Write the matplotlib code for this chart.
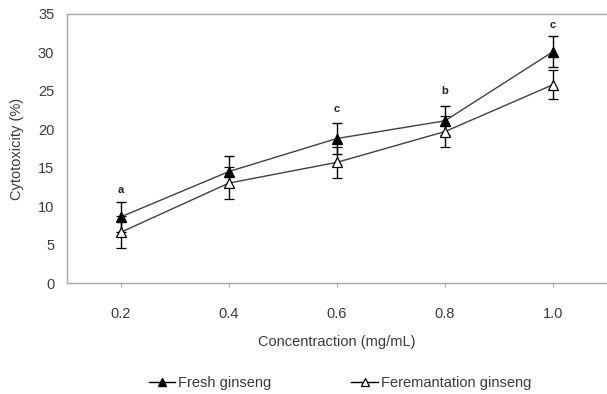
import numpy as np
import matplotlib.pyplot as plt
from matplotlib.lines import Line2D

plt.rcParams['font.family'] = ['Liberation Sans', 'DejaVu Sans']

# data
conc = [0.2, 0.4, 0.6, 0.8, 1.0]
conc_labels = ['0.2', '0.4', '0.6', '0.8', '1.0']
fresh = [8.6, 14.5, 18.8, 21.1, 30.1]
fresh_err = [1.9, 2.0, 2.0, 1.9, 2.0]
ferm = [6.6, 13.0, 15.7, 19.7, 25.8]
ferm_err = [2.1, 2.1, 2.0, 2.0, 1.9]
sig_letters = ['a', '', 'c', 'b', 'c']
sig_y = [12.1, 0, 22.7, 25.0, 33.6]

txt = '#3a3a3a'
spine_col = '#a6a6a6'

fig = plt.figure(figsize=(6.07, 3.94), dpi=100)
ax = fig.add_axes([0.110, 0.2817, 0.890, 0.6828])

ax.errorbar(conc, fresh, yerr=fresh_err, color='#404040', lw=1.0,
            marker='^', ms=7, mfc='black', mec='black',
            ecolor='black', elinewidth=1.0, capsize=3.5, capthick=1.0,
            zorder=3)
ax.errorbar(conc, ferm, yerr=ferm_err, color='#404040', lw=1.0,
            marker='^', ms=7, mfc='white', mec='black', mew=0.9,
            ecolor='black', elinewidth=1.0, capsize=3.5, capthick=1.0,
            zorder=3)

for x, lab, y in zip(conc, sig_letters, sig_y):
    if lab:
        ax.text(x, y, lab, ha='center', va='center', fontsize=8,
                fontweight='bold', color='#222222')

ax.set_xlim(0.1, 1.1)
ax.set_ylim(0, 35)
ax.set_yticks(np.arange(0, 36, 5))
ax.set_xticks(conc)
ax.set_xticklabels(conc_labels)

for side in ['left', 'bottom', 'top']:
    ax.spines[side].set_color(spine_col)
    ax.spines[side].set_linewidth(1.0)
ax.spines['right'].set_visible(False)

ax.tick_params(axis='x', direction='out', length=3, color=spine_col,
               labelsize=10.5, labelcolor=txt, pad=14)
ax.tick_params(axis='y', length=0, labelsize=10.5, labelcolor=txt, pad=9)

ax.set_xlabel('Concentraction (mg/mL)', fontsize=10.5, color=txt, labelpad=10)
ax.set_ylabel('Cytotoxicity (%)', fontsize=10.5, color=txt, labelpad=10)

handles = [
    Line2D([], [], color='black', lw=1.0, marker='^', ms=6,
           mfc='black', mec='black'),
    Line2D([], [], color='black', lw=1.0, marker='^', ms=6,
           mfc='white', mec='black', mew=0.9),
]
fig.legend(handles, ['Fresh ginseng', 'Feremantation ginseng'],
           loc='center', bbox_to_anchor=(0.56, 0.027), ncol=2, frameon=False,
           fontsize=10.5, labelcolor=txt, handlelength=1.8, handletextpad=0.2,
           columnspacing=5.5)

fig.savefig('out.png', dpi=100)
